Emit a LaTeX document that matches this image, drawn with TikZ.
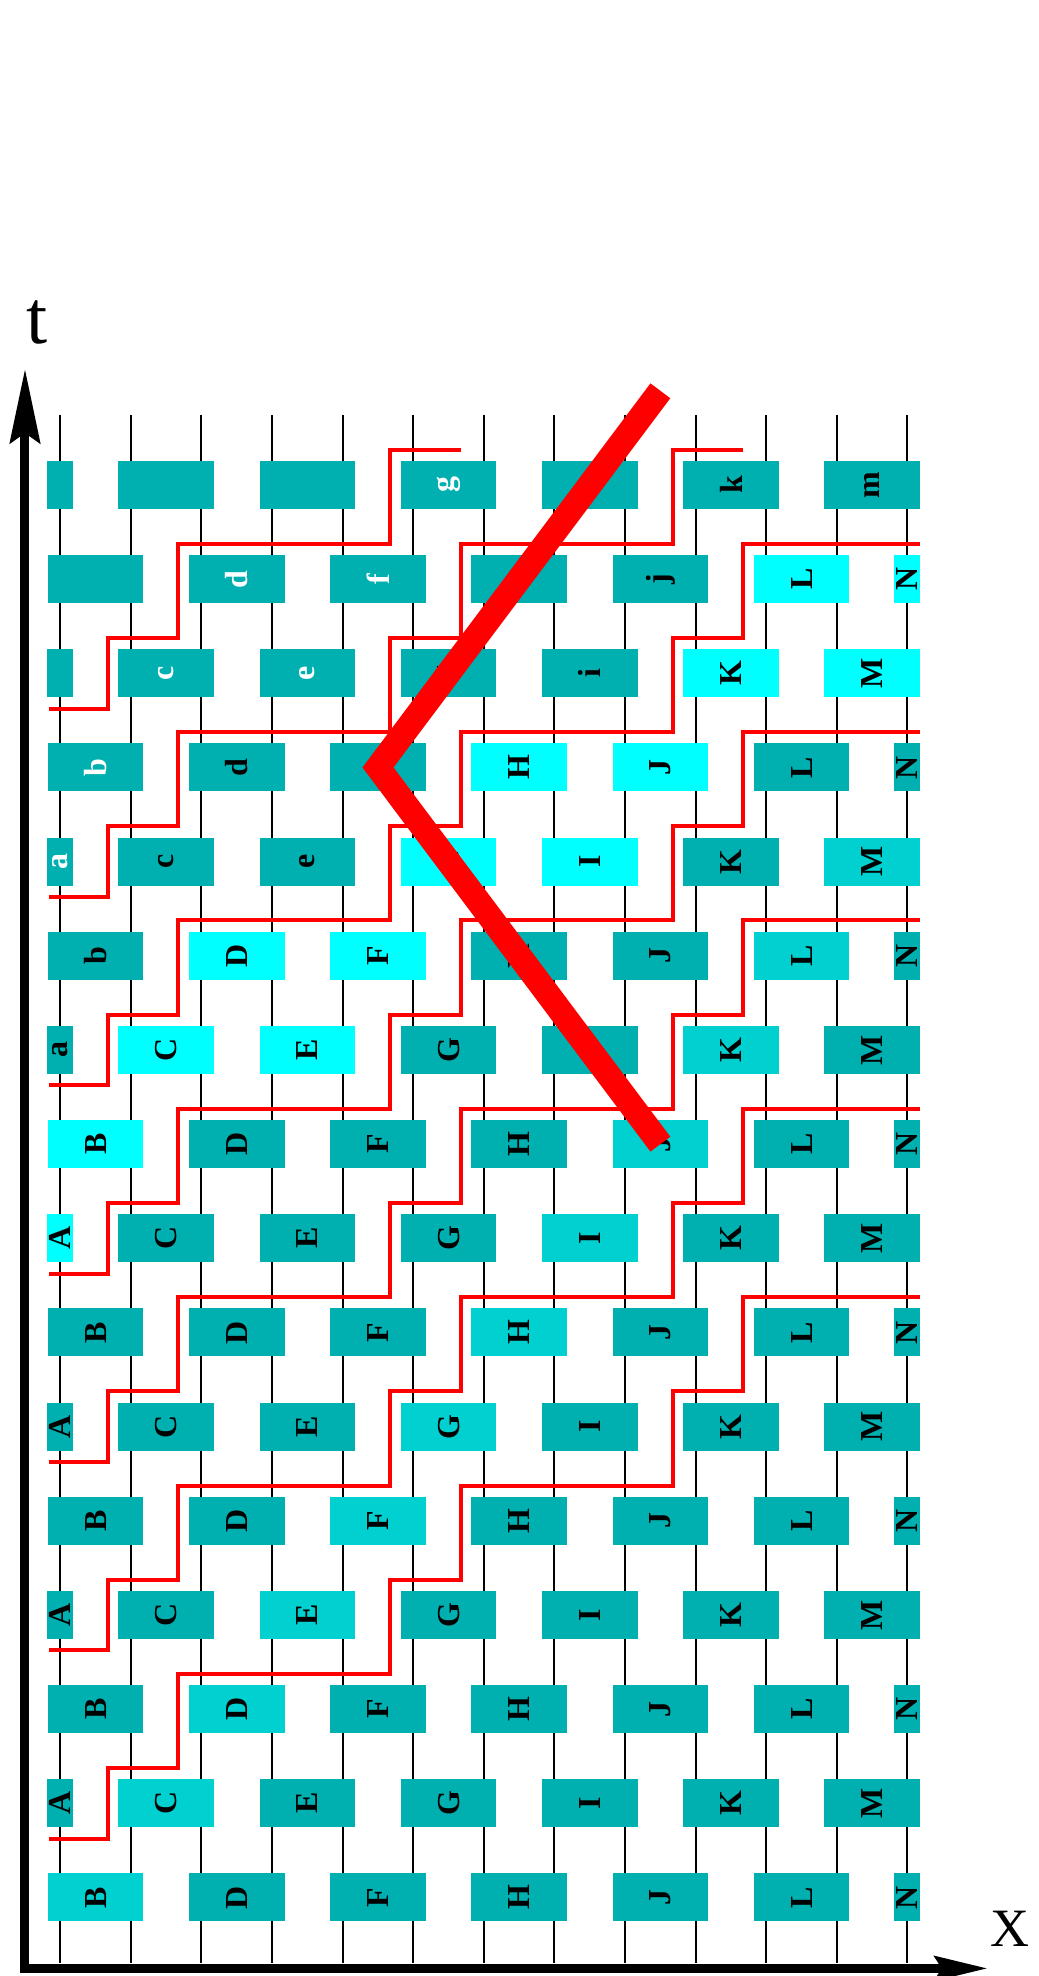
\documentclass[tikz,border=0pt]{standalone}
\usepackage{fontspec}
\setmainfont{Liberation Serif}
\usepackage{tikz}
\usetikzlibrary{arrows.meta}
\usepackage{xcolor}
\definecolor{tealbox}{HTML}{00B0B0}
\definecolor{midcyan}{HTML}{00D0D0}
\definecolor{litecyan}{HTML}{00FFFF}
\newcommand{\whitelbl}[1]{\textcolor{white}{#1}}
\tikzset{
  wire/.style={line width=1pt, black},
  cell/.style={rotate=90, inner sep=0pt, minimum width=24pt, minimum height=47.8pt,
    text=black, font=\fontsize{16}{16}\selectfont\bfseries},
  halfcell/.style={cell, minimum height=13pt},
  cut/.style={red, line width=2pt},
  slash/.style={red, line width=12.4pt, line join=miter},
  axis/.style={line width=4.5pt, line join=miter,
    arrows={Stealth[length=37pt,width=15pt,inset=5pt]-Stealth[length=26.5pt,width=12pt,inset=3.5pt]}}
}

\begin{document}
\begin{tikzpicture}[x=35.3pt,y=-47.085pt]
\useasboundingbox (0,0) rectangle (14.717,20.984);
\begin{scope}[shift={(0.854,5.150)}]
    \foreach \k in {0,...,12} {
      \coordinate (wt\k) at (\k,-0.743);
      \coordinate (wb\k) at (\k,15.695);
      \draw[wire] (wt\k) -- (wb\k);
    }
    \foreach \r/\c/\l in {0/tealbox/,2/tealbox/,4/tealbox/\whitelbl{a},6/tealbox/a,8/litecyan/A,10/tealbox/A,12/tealbox/A,14/tealbox/A}
    \node[halfcell, fill=\c] (a\r) at (0,\r) {\l};
    \foreach \r/\c in {1/litecyan,3/tealbox,5/tealbox,7/tealbox,9/tealbox,11/tealbox,13/tealbox,15/tealbox}
    \node[halfcell, fill=\c] (n\r) at (12,\r) {N};
    \foreach \k/\c/\l in {1/tealbox/,3/tealbox/,5/tealbox/\whitelbl{g},7/tealbox/,9/tealbox/k,11/tealbox/m}
    \node[cell, fill=\c] (b0-\k) at (\k+0.5,0) {\l};
    \foreach \k/\c/\l in {0/tealbox/,2/tealbox/\whitelbl{d},4/tealbox/\whitelbl{f},6/tealbox/,8/tealbox/j,10/litecyan/L}
    \node[cell, fill=\c] (b1-\k) at (\k+0.5,1) {\l};
    \foreach \k/\c/\l in {1/tealbox/\whitelbl{c},3/tealbox/\whitelbl{e},5/tealbox/g,7/tealbox/i,9/litecyan/K,11/litecyan/M}
    \node[cell, fill=\c] (b2-\k) at (\k+0.5,2) {\l};
    \foreach \k/\c/\l in {0/tealbox/\whitelbl{b},2/tealbox/d,4/tealbox/,6/litecyan/H,8/litecyan/J,10/tealbox/L}
    \node[cell, fill=\c] (b3-\k) at (\k+0.5,3) {\l};
    \foreach \k/\c/\l in {1/tealbox/c,3/tealbox/e,5/litecyan/G,7/litecyan/I,9/tealbox/K,11/midcyan/M}
    \node[cell, fill=\c] (b4-\k) at (\k+0.5,4) {\l};
    \foreach \k/\c/\l in {0/tealbox/b,2/litecyan/D,4/litecyan/F,6/tealbox/H,8/tealbox/J,10/midcyan/L}
    \node[cell, fill=\c] (b5-\k) at (\k+0.5,5) {\l};
    \foreach \k/\c/\l in {1/litecyan/C,3/litecyan/E,5/tealbox/G,7/tealbox/I,9/midcyan/K,11/tealbox/M}
    \node[cell, fill=\c] (b6-\k) at (\k+0.5,6) {\l};
    \foreach \k/\c/\l in {0/litecyan/B,2/tealbox/D,4/tealbox/F,6/tealbox/H,8/midcyan/J,10/tealbox/L}
    \node[cell, fill=\c] (b7-\k) at (\k+0.5,7) {\l};
    \foreach \k/\c/\l in {1/tealbox/C,3/tealbox/E,5/tealbox/G,7/midcyan/I,9/tealbox/K,11/tealbox/M}
    \node[cell, fill=\c] (b8-\k) at (\k+0.5,8) {\l};
    \foreach \k/\c/\l in {0/tealbox/B,2/tealbox/D,4/tealbox/F,6/midcyan/H,8/tealbox/J,10/tealbox/L}
    \node[cell, fill=\c] (b9-\k) at (\k+0.5,9) {\l};
    \foreach \k/\c/\l in {1/tealbox/C,3/tealbox/E,5/midcyan/G,7/tealbox/I,9/tealbox/K,11/tealbox/M}
    \node[cell, fill=\c] (b10-\k) at (\k+0.5,10) {\l};
    \foreach \k/\c/\l in {0/tealbox/B,2/tealbox/D,4/midcyan/F,6/tealbox/H,8/tealbox/J,10/tealbox/L}
    \node[cell, fill=\c] (b11-\k) at (\k+0.5,11) {\l};
    \foreach \k/\c/\l in {1/tealbox/C,3/midcyan/E,5/tealbox/G,7/tealbox/I,9/tealbox/K,11/tealbox/M}
    \node[cell, fill=\c] (b12-\k) at (\k+0.5,12) {\l};
    \foreach \k/\c/\l in {0/tealbox/B,2/midcyan/D,4/tealbox/F,6/tealbox/H,8/tealbox/J,10/tealbox/L}
    \node[cell, fill=\c] (b13-\k) at (\k+0.5,13) {\l};
    \foreach \k/\c/\l in {1/midcyan/C,3/tealbox/E,5/tealbox/G,7/tealbox/I,9/tealbox/K,11/tealbox/M}
    \node[cell, fill=\c] (b14-\k) at (\k+0.5,14) {\l};
    \foreach \k/\c/\l in {0/midcyan/B,2/tealbox/D,4/tealbox/F,6/tealbox/H,8/tealbox/J,10/tealbox/L}
    \node[cell, fill=\c] (b15-\k) at (\k+0.5,15) {\l};
    \draw[cut] (-0.156,2.377) -| (0.674,1.625) -| (1.674,0.625) -| (4.674,-0.375) -- (5.674,-0.375);
    \draw[cut] (-0.156,4.377) -| (0.674,3.625) -| (1.674,2.625) -| (4.674,1.625) -| (5.674,0.625)
      -| (8.674,-0.375) -- (9.674,-0.375);
    \foreach \R in {6,8,...,14}
    \draw[cut] (-0.156,\R+0.377) -| (0.674,\R-0.375) -| (1.674,\R-1.375) -| (4.674,\R-2.375)
      -| (5.674,\R-3.375) -| (8.674,\R-4.375) -| (9.674,\R-5.375) -- (12.177,\R-5.375);
    \coordinate (vtop) at (8.5,-1);
    \coordinate (vtip) at (4.5,3);
    \coordinate (vbot) at (8.5,7);
    \draw[slash] (vtop) -- (vtip) -- (vbot);
    \coordinate (tend) at (-0.5,-1.232);
    \coordinate (orig) at (-0.5,15.753);
    \coordinate (xend) at (13.140,15.753);
    \draw[axis] (tend) -- (orig) -- (xend);
    \node[font=\fontsize{38}{38}\selectfont, inner sep=0pt, anchor=base] (tlabel) at (-0.323,-1.497) {t};
    \node[font=\fontsize{27}{27}\selectfont, inner sep=0pt, anchor=base] (xlabel) at (13.452,15.525) {X};
\end{scope}
\end{tikzpicture}
\end{document}
